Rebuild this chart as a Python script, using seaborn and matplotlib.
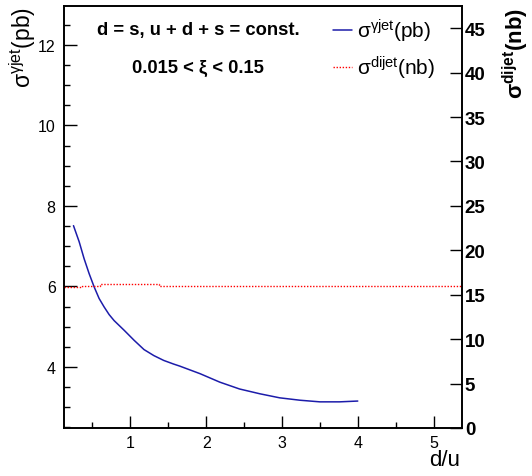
import numpy as np
import pandas as pd
import matplotlib
matplotlib.use("Agg")
import matplotlib.pyplot as plt
from matplotlib.ticker import MultipleLocator
import seaborn as sns

# values
du = [0.25, 0.325, 0.39, 0.456, 0.522, 0.588, 0.654, 0.72, 0.786, 0.918, 1.05,
      1.18, 1.31, 1.44, 1.57, 1.65, 1.92, 2.18, 2.44, 2.71, 2.97, 3.24, 3.5,
      3.76, 4.0]
sig_gjet = [7.51, 7.11, 6.69, 6.32, 5.99, 5.70, 5.49, 5.30, 5.15, 4.91, 4.66,
            4.43, 4.28, 4.16, 4.07, 4.02, 3.83, 3.62, 3.45, 3.33, 3.23, 3.17, 3.13,
            3.13, 3.15]

du_dijet = [0.125, 0.36, 0.6, 1.375, 5.375]
sig_dijet = [15.83, 16.0, 16.16, 16.0, 16.0]

sns.set_style("ticks")
plt.rcParams['font.family'] = ['Liberation Sans', 'DejaVu Sans']
plt.rcParams['mathtext.fontset'] = 'custom'
plt.rcParams['mathtext.rm'] = 'Liberation Sans'
plt.rcParams['mathtext.it'] = 'Liberation Sans:italic'
plt.rcParams['mathtext.bf'] = 'Liberation Sans:bold'
plt.rcParams['text.color'] = 'black'
plt.rcParams['xtick.color'] = 'black'
plt.rcParams['ytick.color'] = 'black'
plt.rcParams['axes.edgecolor'] = 'black'

fig = plt.figure(figsize=(5.32, 4.77), dpi=100)
ax = fig.add_axes([64/532, 48/477, 398/532, 422/477])

df = pd.DataFrame({'du': du, 'sig': sig_gjet})
sns.lineplot(data=df, x='du', y='sig', ax=ax, color='#1c1caa', lw=1.1)
ax.set_xlim(0.125, 5.375)
ax.set_ylim(2.48, 12.97)

ax2 = ax.twinx()
ax2.plot(du_dijet, sig_dijet, drawstyle='steps-post', color='red', ls=(0, (1, 1.2)), lw=1)
ax2.set_ylim(0, 47.5)

for s in ax.spines.values():
    s.set_linewidth(1.2)
for s in ax2.spines.values():
    s.set_linewidth(1.2)

ax.xaxis.set_major_locator(MultipleLocator(1))
ax.xaxis.set_minor_locator(MultipleLocator(0.5))
ax.yaxis.set_major_locator(MultipleLocator(2))
ax.yaxis.set_minor_locator(MultipleLocator(0.5))
ax2.yaxis.set_major_locator(MultipleLocator(5))
ax.tick_params(which='major', direction='in', length=9, width=1, labelsize=11.5, pad=5,
               colors='black')
ax.tick_params(axis='y', which='major', pad=6)
ax.tick_params(which='minor', direction='in', length=4.5, width=1, colors='black')
ax.tick_params(axis='y', which='both', right=False)
ax.tick_params(axis='x', which='both', top=False)
ax2.tick_params(axis='y', which='major', direction='in', length=9, width=1, labelsize=13.5,
                pad=2, colors='black')
ax2.tick_params(axis='y', which='minor', right=False)
for t in ax2.get_yticklabels():
    t.set_fontweight('bold')

ax.set_xlabel('')
ax.set_ylabel('')
fig.text(0.995 - 0.13, 0.012, 'd/u', fontsize=16, ha='right', va='bottom')
fig.text(0.042, 0.985, 'σ$^{\\mathrm{γjet}}$(pb)', fontsize=16.5, rotation=90, ha='center', va='top')
fig.text(0.970, 0.982, 'σ$^{\\mathbf{dijet}}$(nb)', fontsize=16, fontweight='bold',
         rotation=90, ha='center', va='top')

ax.text(198/532, 1 - 30/477, 'd = s, u + d + s = const.', transform=fig.transFigure,
        fontsize=13.2, fontweight='bold', ha='center', va='center')
ax.text(198/532, 1 - 68/477, '0.015 < ξ < 0.15', transform=fig.transFigure,
        fontsize=13.2, fontweight='bold', ha='center', va='center')

# legend
ax.plot([333/532, 352/532], [1 - 31/477] * 2, color='#1c1caa', lw=1.1, transform=fig.transFigure)
ax.plot([333/532, 352/532], [1 - 68/477] * 2, color='red', ls=(0, (1, 1.2)), lw=1, transform=fig.transFigure)
fig.text(357/532, 1 - 31/477, 'σ$^{\\mathrm{γjet}}$(pb)', fontsize=15, ha='left', va='center')
fig.text(357/532, 1 - 68/477, 'σ$^{\\mathrm{dijet}}$(nb)', fontsize=15, ha='left', va='center')

fig.savefig('out.png', dpi=100)
